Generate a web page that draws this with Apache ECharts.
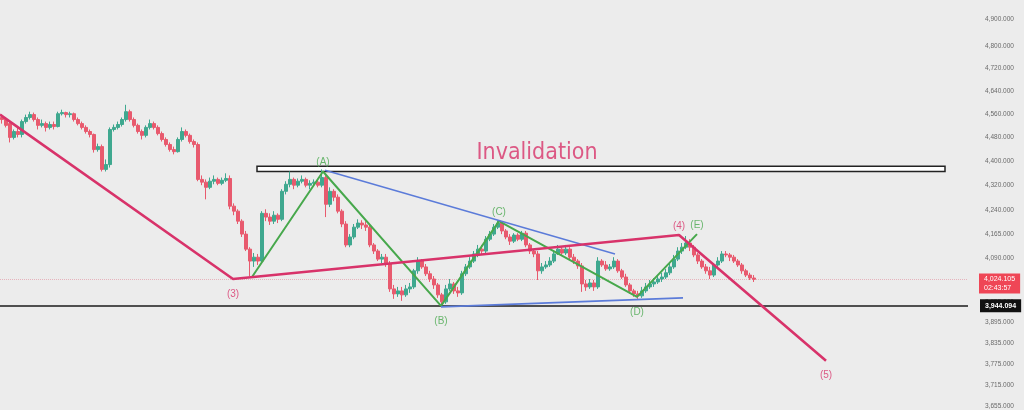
<!DOCTYPE html>
<html><head><meta charset="utf-8">
<script src="https://cdn.jsdelivr.net/npm/echarts@6/dist/echarts.min.js"></script>
<style>html,body{margin:0;padding:0;background:#ececec}#c{width:1024px;height:410px}</style>
</head><body><div id="c"></div>
<script>
// ---- data ----
const slotCount = 242;
// [open, close, low, high]
const candles = [
[4548,4541,4527,4558],[4541,4521,4514,4548],[4527,4480,4463,4534],[4480,4500,4473,4507],[4500,4490,4480,4514],
[4490,4534,4480,4541],[4534,4548,4527,4558],[4548,4558,4541,4568],[4558,4541,4534,4565],[4541,4521,4507,4548],
[4521,4527,4514,4541],[4527,4514,4500,4534],[4514,4524,4507,4534],[4524,4517,4507,4534],[4517,4561,4514,4568],
[4561,4565,4555,4575],[4565,4558,4548,4568],[4558,4561,4548,4568],[4561,4541,4534,4565],[4541,4527,4521,4548],
[4527,4514,4507,4534],[4514,4500,4493,4521],[4500,4490,4480,4507],[4490,4439,4429,4493],[4439,4449,4432,4459],
[4449,4373,4366,4456],[4373,4389,4366,4406],[4389,4507,4379,4514],[4507,4514,4500,4524],[4514,4524,4507,4534],
[4524,4541,4517,4548],[4541,4568,4534,4592],[4568,4541,4534,4575],[4541,4521,4514,4548],[4521,4500,4493,4527],
[4500,4487,4473,4507],[4487,4514,4480,4521],[4514,4527,4507,4541],[4527,4514,4507,4534],[4514,4493,4487,4521],
[4493,4473,4466,4500],[4473,4456,4449,4480],[4456,4439,4432,4463],[4439,4432,4423,4449],[4432,4473,4429,4480],
[4473,4500,4466,4514],[4500,4487,4480,4507],[4487,4466,4459,4493],[4466,4456,4446,4473],[4456,4340,4334,4463],
[4340,4331,4321,4353],[4331,4314,4275,4340],[4314,4334,4308,4346],[4334,4340,4324,4353],[4340,4327,4321,4346],
[4327,4337,4321,4346],[4337,4343,4331,4360],[4343,4253,4243,4353],[4253,4237,4224,4262],[4237,4205,4196,4243],
[4205,4164,4155,4211],[4164,4117,4111,4174],[4117,4080,4034,4123],[4080,4092,4062,4105],[4092,4080,4068,4102],
[4080,4230,4071,4237],[4230,4218,4205,4243],[4218,4205,4193,4230],[4205,4224,4196,4237],[4224,4211,4199,4230],
[4211,4301,4205,4308],[4301,4324,4291,4334],[4324,4340,4314,4366],[4340,4321,4308,4346],[4321,4334,4314,4343],
[4334,4340,4327,4353],[4340,4321,4314,4346],[4321,4327,4308,4337],[4327,4331,4321,4340],[4331,4321,4314,4340],
[4321,4346,4314,4373],[4346,4259,4218,4353],[4259,4301,4250,4314],[4301,4282,4269,4308],[4282,4237,4230,4291],
[4237,4196,4186,4243],[4196,4130,4123,4205],[4130,4155,4123,4164],[4155,4186,4148,4196],[4186,4199,4180,4211],
[4199,4193,4180,4208],[4193,4186,4174,4205],[4186,4130,4123,4193],[4130,4111,4102,4136],[4111,4086,4080,4117],
[4086,4092,4074,4102],[4092,4071,4062,4102],[4071,3995,3986,4080],[3995,3980,3965,4007],[3980,3989,3971,4001],
[3989,3977,3959,4001],[3977,3995,3971,4007],[3995,4001,3983,4013],[4001,4050,3995,4056],[4050,4080,4041,4092],
[4080,4062,4056,4086],[4062,4041,4034,4071],[4041,4025,4016,4050],[4025,4007,3995,4034],[4007,3977,3968,4013],
[3977,3956,3944,3983],[3956,3995,3950,4007],[3995,4010,3989,4025],[4010,3989,3980,4016],[3989,3983,3971,4001],
[3983,4041,3977,4050],[4041,4062,4034,4071],[4062,4080,4056,4092],[4080,4102,4074,4111],[4102,4117,4092,4130],
[4117,4111,4099,4130],[4111,4148,4105,4158],[4148,4164,4142,4174],[4164,4186,4158,4196],[4186,4199,4180,4208],
[4199,4174,4164,4205],[4174,4155,4148,4180],[4155,4142,4130,4164],[4142,4161,4136,4167],[4161,4148,4142,4167],
[4148,4167,4142,4174],[4167,4130,4123,4174],[4130,4111,4102,4136],[4111,4102,4092,4117],[4102,4050,4022,4111],
[4050,4062,4041,4074],[4062,4068,4056,4080],[4068,4080,4062,4092],[4080,4102,4074,4111],[4102,4117,4099,4130],
[4117,4105,4099,4123],[4105,4117,4099,4130],[4117,4092,4086,4123],[4092,4080,4071,4102],[4080,4065,4056,4086],
[4065,4010,3986,4074],[4010,4001,3989,4022],[4001,4013,3995,4025],[4013,4001,3989,4022],[4001,4080,3995,4092],
[4080,4068,4062,4086],[4068,4056,4050,4080],[4056,4062,4050,4071],[4062,4080,4056,4092],[4080,4050,4044,4086],
[4050,4031,4025,4056],[4031,4007,4001,4041],[4007,3989,3980,4013],[3989,3980,3971,3995],[3980,3974,3965,3989],
[3974,3989,3968,4001],[3989,4001,3983,4013],[4001,4010,3995,4022],[4010,4016,4001,4028],[4016,4025,4010,4037],
[4025,4031,4016,4044],[4031,4044,4025,4056],[4044,4062,4037,4071],[4062,4086,4056,4099],[4086,4111,4080,4123],
[4111,4123,4102,4136],[4123,4136,4117,4158],[4136,4123,4111,4148],[4123,4099,4092,4130],[4099,4080,4071,4105],
[4080,4062,4056,4086],[4062,4050,4041,4071],[4050,4037,4025,4062],[4037,4068,4031,4074],[4068,4080,4062,4092],
[4080,4102,4074,4111],[4102,4099,4092,4111],[4099,4092,4080,4105],[4092,4080,4074,4099],[4080,4068,4062,4086],
[4068,4050,4041,4074],[4050,4037,4031,4056],[4037,4028,4022,4044],[4028,4024.105,4016,4037]
];
const tickValues = [4900,4800,4720,4640,4560,4480,4400,4320,4240,4165,4090,4015,3955,3895,3835,3775,3715,3655];
const tickLabels = ['4,900.000','4,800.000','4,720.000','4,640.000','4,560.000','4,480.000','4,400.000','4,320.000','4,240.000','4,165.000','4,090.000','4,015.000','3,955.000','3,895.000','3,835.000','3,775.000','3,715.000','3,655.000'];
const priceMin = 3649.4, priceMax = 4970.7;
// impulse wave (pink) points [slot, price]
const impulsePoints = [[-0.5,4558],[57.75,4025],[169.25,4161],[206,3784]];
const impulseLabels = ['', '(3)', '(4)', '(5)'];
const impulseLabelPos = ['top','bottom','top','bottom'];
// corrective zigzag (green)
const zigzagPoints = [[62.5,4031],[80.25,4366],[109.75,3944],[124.25,4205],[158.75,3971],[173.75,4164]];
const zigzagLabels = ['', '(A)', '(B)', '(C)', '(D)', '(E)'];
const zigzagLabelPos = ['top','top','bottom','top','bottom','top'];
// triangle boundaries (blue)
const upperTrend = [[80.75,4370],[153.25,4102]];
const lowerTrend = [[109.75,3941],[170.25,3968]];
const supportLevel = 3944.094;
const supportText = '3,944.094';
const lastPrice = 4024.105;
const lastPriceText = '4,024.105';
const countdown = '02:43:57';
const invalidationBox = [[63.75,4383],[235.75,4366]];
const invalidationText = 'Invalidation';
const invalidationTextPos = [133.75, 4429];

// ---- chart ----
const L = Math.log;
const PINK = '#d8336a', GREEN = '#47a84c', BLUE = '#5b7bd9';
const chart = echarts.init(document.getElementById('c'), null, {renderer:'canvas'});
const cats = Array.from({length: slotCount}, (_, i) => String(i));
const tr = pts => pts.map(p => [p[0], L(p[1])]);
const labelPts = (pts, labels, pos, color) => pts.map((p, i) => ({
  value: [p[0], L(p[1])],
  label: {show: !!labels[i], formatter: labels[i], position: pos[i], distance: pos[i] === 'bottom' ? 10 : 4, color: color, fontSize: 10, fontFamily: 'Liberation Sans, Arial, sans-serif'}
}));
chart.setOption({
  animation: false,
  backgroundColor: '#ececec',
  grid: {left: 0, right: 56, top: 0, bottom: 0, containLabel: false},
  xAxis: [
    {type: 'category', data: cats, boundaryGap: true, show: false},
    {type: 'value', min: -0.5, max: slotCount - 0.5, show: false}
  ],
  yAxis: {
    type: 'value', position: 'right', min: L(priceMin), max: L(priceMax), scale: true,
    axisLine: {show: false}, axisTick: {show: false}, splitLine: {show: false},
    axisLabel: {
      customValues: tickValues.map(L), margin: 17, fontSize: 6.5, color: '#6a6a6a',
      fontFamily: 'Liberation Sans, Arial, sans-serif',
      formatter: v => { let b = 0; tickValues.forEach((t, i) => { if (Math.abs(L(t) - v) < Math.abs(L(tickValues[b]) - v)) b = i; }); return tickLabels[b]; }
    }
  },
  series: [
    {
      type: 'candlestick', xAxisIndex: 0, barWidth: 2.6, z: 3,
      data: candles.map(c => c.map(L)),
      itemStyle: {color: '#3fa88f', color0: '#e85a6e', borderColor: '#3fa88f', borderColor0: '#e85a6e', borderWidth: 1},
      markLine: {
        symbol: ['none','none'], silent: true, z: 1,
        data: [
          {yAxis: L(lastPrice), lineStyle: {type: 'dotted', color: 'rgba(225,110,130,0.45)', width: 1},
           label: {show: true, position: 'end', distance: 11, formatter: lastPriceText + '\n' + countdown, backgroundColor: '#ef4656',
                   color: '#fff', fontSize: 7, lineHeight: 9, padding: [1, 5], fontFamily: 'Liberation Sans, Arial, sans-serif', offset: [0, 4]}},
          {yAxis: L(supportLevel), lineStyle: {type: 'solid', color: '#1b1b1b', width: 1.6},
           label: {show: true, position: 'end', distance: 12, formatter: supportText, backgroundColor: '#111',
                   color: '#fff', fontSize: 7, fontWeight: 'bold', padding: [3, 5], fontFamily: 'Liberation Sans, Arial, sans-serif'}}
        ]
      }
    },
    {
      type: 'line', xAxisIndex: 1, data: tr(impulsePoints), symbol: 'none', z: 5,
      lineStyle: {color: PINK, width: 2.6},
      markArea: {
        silent: true,
        itemStyle: {color: '#ffffff', borderColor: '#222', borderWidth: 1.5},
        data: [[{coord: [invalidationBox[0][0], L(invalidationBox[0][1])]}, {coord: [invalidationBox[1][0], L(invalidationBox[1][1])]}]]
      }
    },
    {type: 'line', xAxisIndex: 1, data: tr(zigzagPoints), symbol: 'none', z: 4, lineStyle: {color: GREEN, width: 2}},
    {type: 'line', xAxisIndex: 1, data: tr(upperTrend), symbol: 'none', z: 4, lineStyle: {color: BLUE, width: 1.4}},
    {type: 'line', xAxisIndex: 1, data: tr(lowerTrend), symbol: 'none', z: 4, lineStyle: {color: BLUE, width: 1.6}},
    {type: 'scatter', xAxisIndex: 1, symbolSize: 0, z: 6, data: labelPts(impulsePoints, impulseLabels, impulseLabelPos, PINK)},
    {type: 'scatter', xAxisIndex: 1, symbolSize: 0, z: 6, data: labelPts(zigzagPoints, zigzagLabels, zigzagLabelPos, GREEN)},
    {type: 'scatter', xAxisIndex: 1, symbolSize: 0, z: 6,
     data: [{value: [invalidationTextPos[0], L(invalidationTextPos[1])],
             label: {show: true, position: 'inside', formatter: invalidationText, color: PINK, fontSize: 23,
                     fontFamily: 'Liberation Sans Narrow, DejaVu Sans Condensed, sans-serif'}}]}
  ]
});
</script></body></html>
